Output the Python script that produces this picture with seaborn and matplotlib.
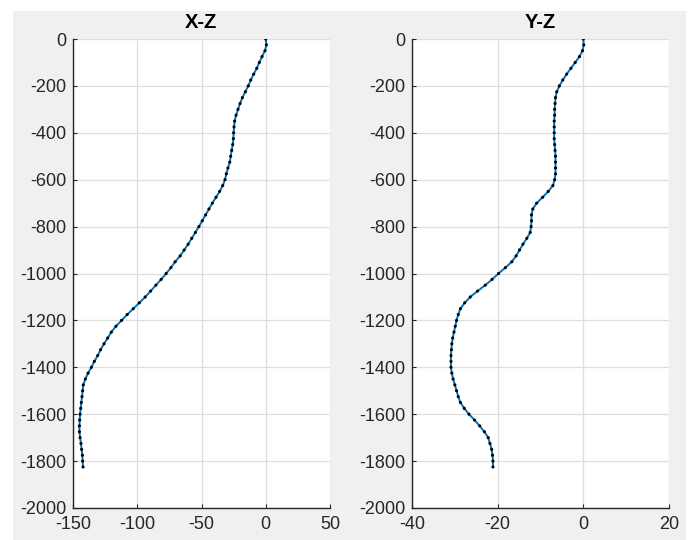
import numpy as np
import pandas as pd
import matplotlib
matplotlib.use('Agg')
import matplotlib.pyplot as plt
import seaborn as sns
from matplotlib.patches import Rectangle

# depth samples every 25 m
depth = [0, -25, -50, -75, -100, -125, -150, -175, -200, -225, -250, -275, -300,
         -325, -350, -375, -400, -425, -450, -475, -500, -525, -550, -575, -600,
         -625, -650, -675, -700, -725, -750, -775, -800, -825, -850, -875, -900,
         -925, -950, -975, -1000, -1025, -1050, -1075, -1100, -1125, -1150, -1175,
         -1200, -1225, -1250, -1275, -1300, -1325, -1350, -1375, -1400, -1425,
         -1450, -1475, -1500, -1525, -1550, -1575, -1600, -1625, -1650, -1675,
         -1700, -1725, -1750, -1775, -1800, -1825]

x_dev = [0, 0.5, -0.6, -2.9, -5.0, -7.0, -9.4, -11.7, -13.6, -15.9, -18.2, -20.0,
         -21.6, -23.1, -24.2, -24.7, -25.0, -25.2, -25.7, -26.5, -27.3, -28.0,
         -29.4, -30.7, -31.7, -33.5, -35.9, -38.7, -41.6, -44.2, -46.8, -49.4,
         -52.0, -54.8, -57.6, -60.4, -63.5, -66.6, -70.5, -73.8, -77.5, -81.4,
         -85.5, -89.6, -93.8, -98.4, -103.1, -107.8, -112.2, -116.6, -120.2,
         -123.0, -125.9, -128.5, -130.8, -133.4, -135.7, -138.3, -140.4, -142.0,
         -142.5, -143.0, -143.5, -144.0, -144.5, -144.8, -145.0, -145.0, -144.5,
         -143.8, -143.3, -142.7, -142.5, -142.2]

y_dev = [0, 0.1, -0.2, -0.9, -1.9, -2.9, -3.9, -4.8, -5.6, -6.2, -6.5, -6.6, -6.7,
         -6.7, -6.8, -6.8, -6.8, -6.8, -6.7, -6.6, -6.5, -6.5, -6.5, -6.5, -6.7,
         -7.1, -8.2, -9.5, -10.9, -11.8, -12.1, -12.1, -12.2, -12.4, -13.2, -14.1,
         -14.9, -15.7, -16.7, -18.2, -19.8, -21.3, -22.9, -24.7, -26.4, -27.7,
         -28.7, -29.2, -29.6, -29.9, -30.2, -30.5, -30.7, -30.8, -30.9, -30.9,
         -30.9, -30.7, -30.4, -30.0, -29.6, -29.2, -28.7, -27.8, -26.7, -25.4,
         -24.2, -23.1, -22.2, -21.8, -21.4, -21.2, -21.1, -21.1]

x_ticks = [-150, -100, -50, 0, 50]
y_dev_ticks = [-40, -20, 0, 20]
depth_ticks = [0, -200, -400, -600, -800, -1000, -1200, -1400, -1600, -1800, -2000]

sns.set_style('white')
plt.rcParams['font.family'] = ['Liberation Sans', 'DejaVu Sans']
plt.rcParams['axes.unicode_minus'] = False

df = pd.DataFrame({'Z': depth, 'X': x_dev, 'Y': y_dev})

fig = plt.figure(figsize=(6.92, 5.4), dpi=100, facecolor='white')
# gray matlab-style figure area
fig.patches.append(Rectangle((13 / 692, 0), (686 - 13) / 692, 1 - 11 / 540,
                             transform=fig.transFigure, facecolor='#f0f0f0',
                             edgecolor='none', zorder=-10))

ax1 = fig.add_axes([73 / 692, 32 / 540, 257 / 692, 469 / 540])
ax2 = fig.add_axes([412 / 692, 32 / 540, 257 / 692, 469 / 540])

panels = [(ax1, 'X', 'X-Z', x_ticks), (ax2, 'Y', 'Y-Z', y_dev_ticks)]
for ax, col, title, xt in panels:
    ax.set_facecolor('white')
    sns.lineplot(data=df, x=col, y='Z', sort=False, estimator=None, ax=ax,
                 color='#0072BD', linewidth=1.4, zorder=3)
    sns.scatterplot(data=df, x=col, y='Z', ax=ax, color='black', s=5,
                    edgecolor='none', zorder=4)
    ax.set_xlim(xt[0], xt[-1])
    ax.set_ylim(-2000, 0)
    ax.set_xticks(xt)
    ax.set_yticks(depth_ticks)
    ax.set_xlabel('')
    ax.set_ylabel('')
    ax.grid(True, color='#dedede', linewidth=0.9)
    ax.set_axisbelow(True)
    for s in ['top', 'right']:
        ax.spines[s].set_visible(False)
    for s in ['left', 'bottom']:
        ax.spines[s].set_color('#262626')
        ax.spines[s].set_linewidth(1.0)
    ax.tick_params(axis='both', direction='in', length=3, width=0.8,
                   colors='#262626', labelsize=13, left=True, bottom=True)
    ax.tick_params(axis='y', pad=5)
    ax.tick_params(axis='x', pad=6)
    ax.set_title(title, fontsize=14.5, fontweight='bold', pad=8, color='black')

fig.savefig('out.png', dpi=100, facecolor=fig.get_facecolor())
